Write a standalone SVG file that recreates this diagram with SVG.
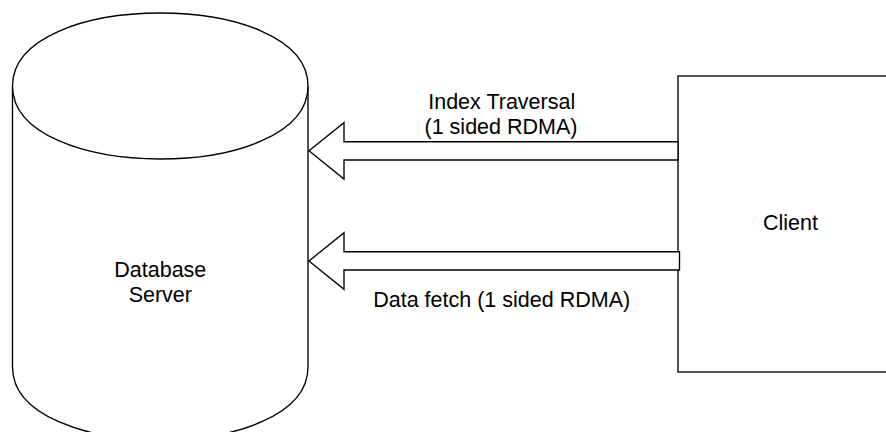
<svg xmlns="http://www.w3.org/2000/svg" width="886" height="432" viewBox="0 0 886 432">
  <style>
    .shape { fill: #ffffff; stroke: #000000; stroke-width: 1.35; stroke-linejoin: miter; }
    .label { font-family: "Liberation Sans", Arial, Helvetica, sans-serif; font-size: 21.5px; fill: #000000; text-anchor: middle; }
  </style>
  <rect width="886" height="432" fill="#ffffff"/>

  <!-- Database server: cylinder -->
  <g id="database-server">
    <path class="shape" d="M12.5,86 C12.5,-11.3 308,-11.3 308,86 L308,367 C308,464.3 12.5,464.3 12.5,367 Z"/>
    <path class="shape" fill="none" d="M12.5,86 C12.5,183.3 308,183.3 308,86"/>
    <text class="label" x="160.3" y="276.5">Database</text>
    <text class="label" x="160.3" y="302">Server</text>
  </g>

  <!-- Client box (runs past the right edge) -->
  <g id="client">
    <rect class="shape" x="678" y="76" width="226" height="296"/>
    <text class="label" x="790.5" y="230">Client</text>
  </g>

  <!-- Wide flat arrows from client to server -->
  <g id="connectors">
    <g id="index-traversal">
      <polygon class="shape" points="309,150.8 344,122.7 344,141.7 678,141.7 678,160 344,160 344,179"/>
      <text class="label" x="501.7" y="108.5">Index Traversal</text>
      <text class="label" x="501" y="134.3">(1 sided RDMA)</text>
    </g>
    <g id="data-fetch">
      <polygon class="shape" points="309,261 344,232.7 344,251.7 679.5,251.7 679.5,270 344,270 344,289.3"/>
      <text class="label" x="501.7" y="307">Data fetch (1 sided RDMA)</text>
    </g>
  </g>
</svg>
